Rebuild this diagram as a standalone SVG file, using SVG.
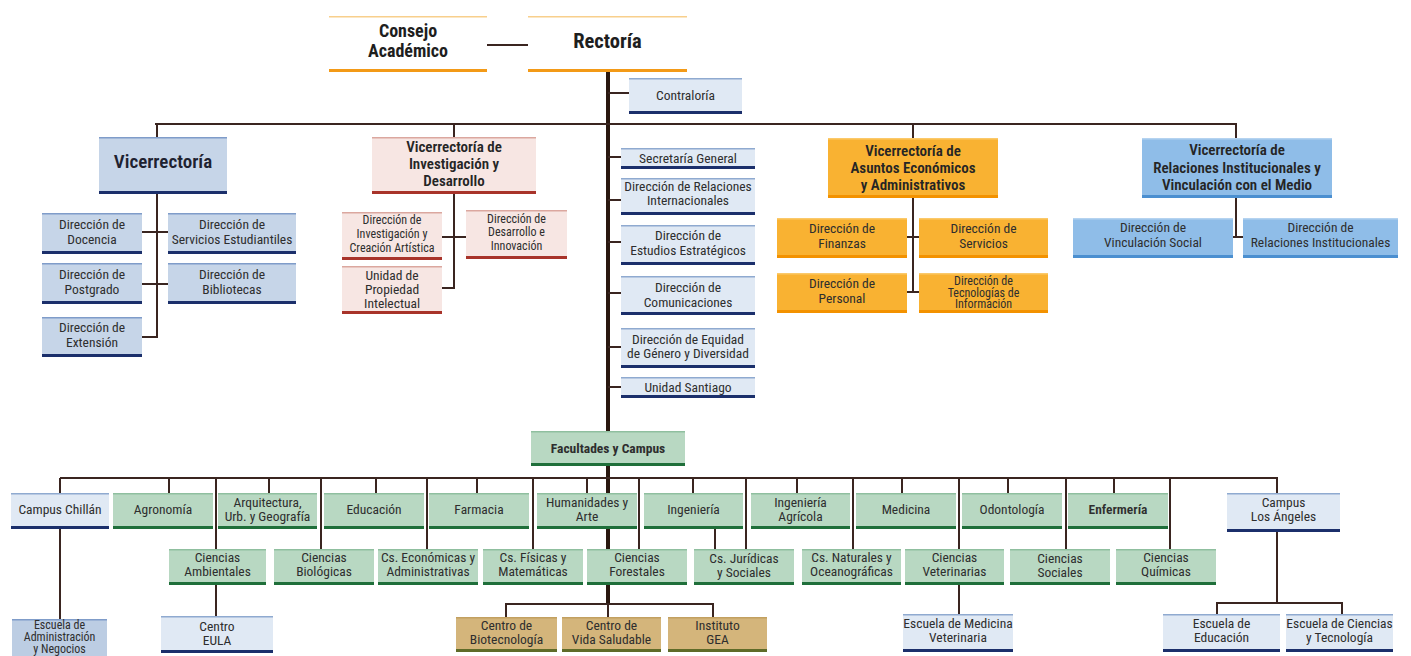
<svg xmlns="http://www.w3.org/2000/svg" width="1411" height="656" viewBox="0 0 1411 656">
<style>
  .lbl { font-family: "Liberation Sans Narrow", "Roboto Condensed", "DejaVu Sans Condensed", Lato, "Liberation Sans", sans-serif; font-size: 13.5px; fill: #2e2e2e; text-anchor: middle; }
  .b16 { font-size: 18px; font-weight: 700; fill: #1e1e1e; }
  .b19 { font-size: 20.5px; font-weight: 700; fill: #1e1e1e; }
  .t19 { font-size: 19px; font-weight: 600; fill: #1e2230; }
  .t15 { font-size: 15px; font-weight: 600; fill: #252525; }
  .bold { font-weight: 700; }
  .s12 { font-size: 12px; }
  .white .bg { fill: #ffffff; } .white .top { fill: #f8cf8c; } .white .bar { fill: #f39a17; }
  .blue .bg { fill: #c6d5e8; } .blue .top { fill: #7f9cc9; } .blue .bar { fill: #1b2f6b; }
  .light .bg { fill: #e0e9f4; } .light .top { fill: #8faad0; } .light .bar { fill: #1b2f6b; }
  .navy .bg { fill: #bccde3; } .navy .top { fill: #7f9cc9; } .navy .bar { fill: #1b2f6b; }
  .pink .bg { fill: #f7e6e3; } .pink .top { fill: #dba79f; } .pink .bar { fill: #a8332a; }
  .orange .bg { fill: #f9b232; } .orange .top { fill: #fbc96a; } .orange .bar { fill: #f39200; }
  .sky .bg { fill: #8fbde8; } .sky .top { fill: #b5d3f0; } .sky .bar { fill: #4b8fd0; }
  .green .bg { fill: #b8d8c2; } .green .top { fill: #8fbf9f; } .green .bar { fill: #1f6f3a; }
  .tan .bg { fill: #d4b57b; } .tan .top { fill: #c2a060; } .tan .bar { fill: #5f6b28; }
  .link { stroke: #3a2520; stroke-width: 2; fill: none; }
  .main { stroke: #2a1810; stroke-width: 4; fill: none; }
</style>
<rect width="1411" height="656" fill="#ffffff"/>

<!-- connectors -->
<g id="connectors">
  <line class="main" x1="608" y1="72" x2="608" y2="605"/>
  <line class="link" x1="487" y1="45" x2="528" y2="45"/>
  <line class="link" x1="608" y1="93" x2="629" y2="93"/>
  <line class="link" x1="155" y1="124" x2="1237" y2="124" stroke-width="2.5"/>
  <line class="link" x1="157" y1="124" x2="157" y2="137"/>
  <line class="link" x1="454" y1="124" x2="454" y2="137"/>
  <line class="link" x1="913" y1="124" x2="913" y2="138"/>
  <line class="link" x1="1236" y1="124" x2="1236" y2="138"/>
  <!-- Vicerrectoría -->
  <polyline class="link" points="157,194 157,337 142,337"/>
  <line class="link" x1="142" y1="232" x2="168" y2="232"/>
  <line class="link" x1="142" y1="284" x2="168" y2="284"/>
  <!-- Investigación y Desarrollo -->
  <polyline class="link" points="454,194 454,288 442,288"/>
  <line class="link" x1="442" y1="237" x2="466" y2="237"/>
  <!-- units on the main trunk -->
  <line class="link" x1="608" y1="157" x2="621" y2="157"/>
  <line class="link" x1="608" y1="200" x2="621" y2="200"/>
  <line class="link" x1="608" y1="242" x2="621" y2="242"/>
  <line class="link" x1="608" y1="293" x2="621" y2="293"/>
  <line class="link" x1="608" y1="347" x2="621" y2="347"/>
  <line class="link" x1="608" y1="387" x2="621" y2="387"/>
  <!-- Asuntos Económicos -->
  <line class="link" x1="913" y1="198" x2="913" y2="293"/>
  <line class="link" x1="907" y1="237" x2="919" y2="237"/>
  <line class="link" x1="907" y1="292" x2="919" y2="292"/>
  <!-- Relaciones Institucionales -->
  <line class="link" x1="1236" y1="198" x2="1236" y2="237"/>
  <line class="link" x1="1233" y1="237" x2="1243" y2="237"/>
  <!-- faculties -->
  <line class="link" x1="60" y1="478" x2="1278" y2="478"/>
  <line class="link" x1="60" y1="478" x2="60" y2="619"/>
  <line class="link" x1="169" y1="478" x2="169" y2="493"/>
  <line class="link" x1="269" y1="478" x2="269" y2="493"/>
  <line class="link" x1="376" y1="478" x2="376" y2="493"/>
  <line class="link" x1="477" y1="478" x2="477" y2="493"/>
  <line class="link" x1="587" y1="478" x2="587" y2="493"/>
  <line class="link" x1="693" y1="478" x2="693" y2="493"/>
  <line class="link" x1="797" y1="478" x2="797" y2="493"/>
  <line class="link" x1="902" y1="478" x2="902" y2="493"/>
  <line class="link" x1="1008" y1="478" x2="1008" y2="493"/>
  <line class="link" x1="1114" y1="478" x2="1114" y2="493"/>
  <line class="link" x1="1277" y1="478" x2="1277" y2="603"/>
  <line class="link" x1="216" y1="478" x2="216" y2="616"/>
  <line class="link" x1="321" y1="478" x2="321" y2="549"/>
  <line class="link" x1="427" y1="478" x2="427" y2="549"/>
  <line class="link" x1="533" y1="478" x2="533" y2="549"/>
  <line class="link" x1="639" y1="478" x2="639" y2="549"/>
  <line class="link" x1="746" y1="478" x2="746" y2="549"/>
  <line class="link" x1="715" y1="529" x2="715" y2="549"/>
  <line class="link" x1="853" y1="478" x2="853" y2="549"/>
  <line class="link" x1="959" y1="478" x2="959" y2="614"/>
  <line class="link" x1="1066" y1="478" x2="1066" y2="549"/>
  <line class="link" x1="1170" y1="478" x2="1170" y2="549"/>
  <!-- research centres -->
  <polyline class="link" points="506,617 506,604 713,604 713,617"/>
  <line class="link" x1="608" y1="604" x2="608" y2="617"/>
  <!-- Los Ángeles schools -->
  <polyline class="link" points="1217,614 1217,603 1342,603 1342,614"/>
</g>

<!-- governing bodies -->
<g id="consejo" class="node white"><rect class="bg" x="329" y="16" width="158" height="56"/><rect class="top" x="329" y="16" width="158" height="1.5"/><rect class="bar" x="329" y="69" width="158" height="3"/>
  <text class="lbl b16"><tspan x="408" y="37">Consejo</tspan><tspan x="408" y="57">Académico</tspan></text></g>
<g id="rectoria" class="node white"><rect class="bg" x="528" y="16" width="159" height="56"/><rect class="top" x="528" y="16" width="159" height="1.5"/><rect class="bar" x="528" y="69" width="159" height="3"/>
  <text class="lbl b19" x="607.5" y="48">Rectoría</text></g>
<g id="contraloria" class="node light"><rect class="bg" x="629" y="78" width="113" height="36"/><rect class="top" x="629" y="78" width="113" height="1.5"/><rect class="bar" x="629" y="111" width="113" height="3"/>
  <text class="lbl" x="685.5" y="100">Contraloría</text></g>

<!-- Vicerrectoría -->
<g id="vicerrectoria" class="node blue"><rect class="bg" x="99" y="137" width="128" height="57"/><rect class="top" x="99" y="137" width="128" height="1.5"/><rect class="bar" x="99" y="191" width="128" height="3"/>
  <text class="lbl t19" x="163" y="168">Vicerrectoría</text></g>
<g id="dir-docencia" class="node blue"><rect class="bg" x="42" y="213" width="100" height="41"/><rect class="top" x="42" y="213" width="100" height="1.5"/><rect class="bar" x="42" y="251" width="100" height="3"/>
  <text class="lbl"><tspan x="92" y="229">Dirección de</tspan><tspan x="92" y="244">Docencia</tspan></text></g>
<g id="dir-servicios-estudiantiles" class="node blue"><rect class="bg" x="168" y="213" width="128" height="41"/><rect class="top" x="168" y="213" width="128" height="1.5"/><rect class="bar" x="168" y="251" width="128" height="3"/>
  <text class="lbl"><tspan x="232" y="229">Dirección de</tspan><tspan x="232" y="244">Servicios Estudiantiles</tspan></text></g>
<g id="dir-postgrado" class="node blue"><rect class="bg" x="42" y="263" width="100" height="41"/><rect class="top" x="42" y="263" width="100" height="1.5"/><rect class="bar" x="42" y="301" width="100" height="3"/>
  <text class="lbl"><tspan x="92" y="279">Dirección de</tspan><tspan x="92" y="294">Postgrado</tspan></text></g>
<g id="dir-bibliotecas" class="node blue"><rect class="bg" x="168" y="263" width="128" height="41"/><rect class="top" x="168" y="263" width="128" height="1.5"/><rect class="bar" x="168" y="301" width="128" height="3"/>
  <text class="lbl"><tspan x="232" y="279">Dirección de</tspan><tspan x="232" y="294">Bibliotecas</tspan></text></g>
<g id="dir-extension" class="node blue"><rect class="bg" x="42" y="317" width="100" height="40"/><rect class="top" x="42" y="317" width="100" height="1.5"/><rect class="bar" x="42" y="354" width="100" height="3"/>
  <text class="lbl"><tspan x="92" y="332">Dirección de</tspan><tspan x="92" y="347">Extensión</tspan></text></g>

<!-- Investigación y Desarrollo -->
<g id="vr-investigacion" class="node pink"><rect class="bg" x="372" y="137" width="164" height="57"/><rect class="top" x="372" y="137" width="164" height="1.5"/><rect class="bar" x="372" y="191" width="164" height="3"/>
  <text class="lbl t15"><tspan x="454" y="152">Vicerrectoría de</tspan><tspan x="454" y="169">Investigación y</tspan><tspan x="454" y="186">Desarrollo</tspan></text></g>
<g id="dir-investigacion" class="node pink"><rect class="bg" x="342" y="212" width="100" height="48"/><rect class="top" x="342" y="212" width="100" height="1.5"/><rect class="bar" x="342" y="257" width="100" height="3"/>
  <text class="lbl s12"><tspan x="392" y="224">Dirección de</tspan><tspan x="392" y="238">Investigación y</tspan><tspan x="392" y="252">Creación Artística</tspan></text></g>
<g id="unidad-propiedad" class="node pink"><rect class="bg" x="342" y="266" width="100" height="48"/><rect class="top" x="342" y="266" width="100" height="1.5"/><rect class="bar" x="342" y="311" width="100" height="3"/>
  <text class="lbl"><tspan x="392" y="280">Unidad de</tspan><tspan x="392" y="294">Propiedad</tspan><tspan x="392" y="308">Intelectual</tspan></text></g>
<g id="dir-desarrollo" class="node pink"><rect class="bg" x="466" y="210" width="101" height="49"/><rect class="top" x="466" y="210" width="101" height="1.5"/><rect class="bar" x="466" y="256" width="101" height="3"/>
  <text class="lbl s12"><tspan x="516.5" y="223">Dirección de</tspan><tspan x="516.5" y="236">Desarrollo e</tspan><tspan x="516.5" y="250">Innovación</tspan></text></g>

<!-- units attached to Rectoría -->
<g id="secretaria-general" class="node light"><rect class="bg" x="621" y="148" width="134" height="21"/><rect class="top" x="621" y="148" width="134" height="1.5"/><rect class="bar" x="621" y="166" width="134" height="3"/>
  <text class="lbl" x="688" y="163">Secretaría General</text></g>
<g id="dir-relaciones-internacionales" class="node light"><rect class="bg" x="621" y="178" width="134" height="37"/><rect class="top" x="621" y="178" width="134" height="1.5"/><rect class="bar" x="621" y="212" width="134" height="3"/>
  <text class="lbl"><tspan x="688" y="191">Dirección de Relaciones</tspan><tspan x="688" y="205">Internacionales</tspan></text></g>
<g id="dir-estudios" class="node light"><rect class="bg" x="621" y="225" width="134" height="40"/><rect class="top" x="621" y="225" width="134" height="1.5"/><rect class="bar" x="621" y="262" width="134" height="3"/>
  <text class="lbl"><tspan x="688" y="240">Dirección de</tspan><tspan x="688" y="255">Estudios Estratégicos</tspan></text></g>
<g id="dir-comunicaciones" class="node light"><rect class="bg" x="621" y="276" width="134" height="39"/><rect class="top" x="621" y="276" width="134" height="1.5"/><rect class="bar" x="621" y="312" width="134" height="3"/>
  <text class="lbl"><tspan x="688" y="292">Dirección de</tspan><tspan x="688" y="307">Comunicaciones</tspan></text></g>
<g id="dir-equidad" class="node light"><rect class="bg" x="621" y="328" width="134" height="40"/><rect class="top" x="621" y="328" width="134" height="1.5"/><rect class="bar" x="621" y="365" width="134" height="3"/>
  <text class="lbl"><tspan x="688" y="344">Dirección de Equidad</tspan><tspan x="688" y="358">de Género y Diversidad</tspan></text></g>
<g id="unidad-santiago" class="node light"><rect class="bg" x="621" y="377" width="134" height="21"/><rect class="top" x="621" y="377" width="134" height="1.5"/><rect class="bar" x="621" y="395" width="134" height="3"/>
  <text class="lbl" x="688" y="392">Unidad Santiago</text></g>

<!-- Asuntos Económicos y Administrativos -->
<g id="vr-economicos" class="node orange"><rect class="bg" x="828" y="138" width="170" height="60"/><rect class="top" x="828" y="138" width="170" height="1.5"/><rect class="bar" x="828" y="195" width="170" height="3"/>
  <text class="lbl t15"><tspan x="913" y="156">Vicerrectoría de</tspan><tspan x="913" y="173">Asuntos Económicos</tspan><tspan x="913" y="190">y Administrativos</tspan></text></g>
<g id="dir-finanzas" class="node orange"><rect class="bg" x="777" y="218" width="130" height="40"/><rect class="top" x="777" y="218" width="130" height="1.5"/><rect class="bar" x="777" y="255" width="130" height="3"/>
  <text class="lbl"><tspan x="842" y="233">Dirección de</tspan><tspan x="842" y="248">Finanzas</tspan></text></g>
<g id="dir-servicios" class="node orange"><rect class="bg" x="919" y="218" width="129" height="40"/><rect class="top" x="919" y="218" width="129" height="1.5"/><rect class="bar" x="919" y="255" width="129" height="3"/>
  <text class="lbl"><tspan x="983.5" y="233">Dirección de</tspan><tspan x="983.5" y="248">Servicios</tspan></text></g>
<g id="dir-personal" class="node orange"><rect class="bg" x="777" y="273" width="130" height="40"/><rect class="top" x="777" y="273" width="130" height="1.5"/><rect class="bar" x="777" y="310" width="130" height="3"/>
  <text class="lbl"><tspan x="842" y="288">Dirección de</tspan><tspan x="842" y="303">Personal</tspan></text></g>
<g id="dir-tecnologias" class="node orange"><rect class="bg" x="919" y="273" width="129" height="40"/><rect class="top" x="919" y="273" width="129" height="1.5"/><rect class="bar" x="919" y="310" width="129" height="3"/>
  <text class="lbl s12"><tspan x="983.5" y="285">Dirección de</tspan><tspan x="983.5" y="296.5">Tecnologías de</tspan><tspan x="983.5" y="308">Información</tspan></text></g>

<!-- Relaciones Institucionales y Vinculación -->
<g id="vr-relaciones" class="node sky"><rect class="bg" x="1142" y="138" width="190" height="60"/><rect class="top" x="1142" y="138" width="190" height="1.5"/><rect class="bar" x="1142" y="195" width="190" height="3"/>
  <text class="lbl t15"><tspan x="1237" y="155">Vicerrectoría de</tspan><tspan x="1237" y="173">Relaciones Institucionales y</tspan><tspan x="1237" y="190">Vinculación con el Medio</tspan></text></g>
<g id="dir-vinculacion" class="node sky"><rect class="bg" x="1073" y="218" width="160" height="40"/><rect class="top" x="1073" y="218" width="160" height="1.5"/><rect class="bar" x="1073" y="255" width="160" height="3"/>
  <text class="lbl"><tspan x="1153" y="232">Dirección de</tspan><tspan x="1153" y="247">Vinculación Social</tspan></text></g>
<g id="dir-relaciones-institucionales" class="node sky"><rect class="bg" x="1243" y="218" width="155" height="40"/><rect class="top" x="1243" y="218" width="155" height="1.5"/><rect class="bar" x="1243" y="255" width="155" height="3"/>
  <text class="lbl"><tspan x="1320.5" y="232">Dirección de</tspan><tspan x="1320.5" y="247">Relaciones Institucionales</tspan></text></g>

<!-- Facultades y Campus -->
<g id="facultades" class="node green"><rect class="bg" x="531" y="431" width="154" height="35"/><rect class="top" x="531" y="431" width="154" height="1.5"/><rect class="bar" x="531" y="463" width="154" height="3"/>
  <text class="lbl bold" x="608" y="453">Facultades y Campus</text></g>

<!-- first row -->
<g id="campus-chillan" class="node light"><rect class="bg" x="11" y="493" width="98" height="36"/><rect class="top" x="11" y="493" width="98" height="1.5"/><rect class="bar" x="11" y="526" width="98" height="3"/>
  <text class="lbl" x="60" y="514">Campus Chillán</text></g>
<g id="agronomia" class="node green"><rect class="bg" x="113" y="493" width="100" height="36"/><rect class="top" x="113" y="493" width="100" height="1.5"/><rect class="bar" x="113" y="526" width="100" height="3"/>
  <text class="lbl" x="163" y="514">Agronomía</text></g>
<g id="arquitectura" class="node green"><rect class="bg" x="218" y="493" width="99" height="36"/><rect class="top" x="218" y="493" width="99" height="1.5"/><rect class="bar" x="218" y="526" width="99" height="3"/>
  <text class="lbl"><tspan x="267.5" y="507">Arquitectura,</tspan><tspan x="267.5" y="521">Urb. y Geografía</tspan></text></g>
<g id="educacion" class="node green"><rect class="bg" x="324" y="493" width="100" height="36"/><rect class="top" x="324" y="493" width="100" height="1.5"/><rect class="bar" x="324" y="526" width="100" height="3"/>
  <text class="lbl" x="374" y="514">Educación</text></g>
<g id="farmacia" class="node green"><rect class="bg" x="429" y="493" width="100" height="36"/><rect class="top" x="429" y="493" width="100" height="1.5"/><rect class="bar" x="429" y="526" width="100" height="3"/>
  <text class="lbl" x="479" y="514">Farmacia</text></g>
<g id="humanidades" class="node green"><rect class="bg" x="537" y="493" width="100" height="36"/><rect class="top" x="537" y="493" width="100" height="1.5"/><rect class="bar" x="537" y="526" width="100" height="3"/>
  <text class="lbl"><tspan x="587" y="507">Humanidades y</tspan><tspan x="587" y="521">Arte</tspan></text></g>
<g id="ingenieria" class="node green"><rect class="bg" x="644" y="493" width="99" height="36"/><rect class="top" x="644" y="493" width="99" height="1.5"/><rect class="bar" x="644" y="526" width="99" height="3"/>
  <text class="lbl" x="693.5" y="514">Ingeniería</text></g>
<g id="ingenieria-agricola" class="node green"><rect class="bg" x="751" y="493" width="99" height="36"/><rect class="top" x="751" y="493" width="99" height="1.5"/><rect class="bar" x="751" y="526" width="99" height="3"/>
  <text class="lbl"><tspan x="800.5" y="507">Ingeniería</tspan><tspan x="800.5" y="521">Agrícola</tspan></text></g>
<g id="medicina" class="node green"><rect class="bg" x="856" y="493" width="100" height="36"/><rect class="top" x="856" y="493" width="100" height="1.5"/><rect class="bar" x="856" y="526" width="100" height="3"/>
  <text class="lbl" x="906" y="514">Medicina</text></g>
<g id="odontologia" class="node green"><rect class="bg" x="962" y="493" width="100" height="36"/><rect class="top" x="962" y="493" width="100" height="1.5"/><rect class="bar" x="962" y="526" width="100" height="3"/>
  <text class="lbl" x="1012" y="514">Odontología</text></g>
<g id="enfermeria" class="node green"><rect class="bg" x="1068" y="493" width="100" height="36"/><rect class="top" x="1068" y="493" width="100" height="1.5"/><rect class="bar" x="1068" y="526" width="100" height="3"/>
  <text class="lbl" x="1118" y="514" font-weight="600">Enfermería</text></g>
<g id="campus-los-angeles" class="node light"><rect class="bg" x="1227" y="493" width="113" height="39"/><rect class="top" x="1227" y="493" width="113" height="1.5"/><rect class="bar" x="1227" y="529" width="113" height="3"/>
  <text class="lbl"><tspan x="1283.5" y="507">Campus</tspan><tspan x="1283.5" y="521">Los Ángeles</tspan></text></g>

<!-- second row -->
<g id="ciencias-ambientales" class="node green"><rect class="bg" x="169" y="549" width="97" height="36"/><rect class="top" x="169" y="549" width="97" height="1.5"/><rect class="bar" x="169" y="582" width="97" height="3"/>
  <text class="lbl"><tspan x="217.5" y="562">Ciencias</tspan><tspan x="217.5" y="576">Ambientales</tspan></text></g>
<g id="ciencias-biologicas" class="node green"><rect class="bg" x="274" y="549" width="100" height="36"/><rect class="top" x="274" y="549" width="100" height="1.5"/><rect class="bar" x="274" y="582" width="100" height="3"/>
  <text class="lbl"><tspan x="324" y="562">Ciencias</tspan><tspan x="324" y="576">Biológicas</tspan></text></g>
<g id="cs-economicas" class="node green"><rect class="bg" x="378" y="549" width="100" height="36"/><rect class="top" x="378" y="549" width="100" height="1.5"/><rect class="bar" x="378" y="582" width="100" height="3"/>
  <text class="lbl"><tspan x="428" y="562">Cs. Económicas y</tspan><tspan x="428" y="576">Administrativas</tspan></text></g>
<g id="cs-fisicas" class="node green"><rect class="bg" x="483" y="549" width="100" height="36"/><rect class="top" x="483" y="549" width="100" height="1.5"/><rect class="bar" x="483" y="582" width="100" height="3"/>
  <text class="lbl"><tspan x="533" y="562">Cs. Físicas y</tspan><tspan x="533" y="576">Matemáticas</tspan></text></g>
<g id="ciencias-forestales" class="node green"><rect class="bg" x="587" y="549" width="100" height="36"/><rect class="top" x="587" y="549" width="100" height="1.5"/><rect class="bar" x="587" y="582" width="100" height="3"/>
  <text class="lbl"><tspan x="637" y="562">Ciencias</tspan><tspan x="637" y="576">Forestales</tspan></text></g>
<g id="cs-juridicas" class="node green"><rect class="bg" x="694" y="549" width="100" height="36"/><rect class="top" x="694" y="549" width="100" height="1.5"/><rect class="bar" x="694" y="582" width="100" height="3"/>
  <text class="lbl"><tspan x="744" y="563">Cs. Jurídicas</tspan><tspan x="744" y="577">y Sociales</tspan></text></g>
<g id="cs-naturales" class="node green"><rect class="bg" x="802" y="549" width="99" height="36"/><rect class="top" x="802" y="549" width="99" height="1.5"/><rect class="bar" x="802" y="582" width="99" height="3"/>
  <text class="lbl"><tspan x="851.5" y="562">Cs. Naturales y</tspan><tspan x="851.5" y="576">Oceanográficas</tspan></text></g>
<g id="ciencias-veterinarias" class="node green"><rect class="bg" x="905" y="549" width="99" height="36"/><rect class="top" x="905" y="549" width="99" height="1.5"/><rect class="bar" x="905" y="582" width="99" height="3"/>
  <text class="lbl"><tspan x="954.5" y="562">Ciencias</tspan><tspan x="954.5" y="576">Veterinarias</tspan></text></g>
<g id="ciencias-sociales" class="node green"><rect class="bg" x="1010" y="549" width="100" height="36"/><rect class="top" x="1010" y="549" width="100" height="1.5"/><rect class="bar" x="1010" y="582" width="100" height="3"/>
  <text class="lbl"><tspan x="1060" y="563">Ciencias</tspan><tspan x="1060" y="577">Sociales</tspan></text></g>
<g id="ciencias-quimicas" class="node green"><rect class="bg" x="1116" y="549" width="100" height="36"/><rect class="top" x="1116" y="549" width="100" height="1.5"/><rect class="bar" x="1116" y="582" width="100" height="3"/>
  <text class="lbl"><tspan x="1166" y="562">Ciencias</tspan><tspan x="1166" y="576">Químicas</tspan></text></g>

<!-- third row -->
<g id="escuela-administracion" class="node navy"><rect class="bg" x="12" y="619" width="95" height="40"/><rect class="top" x="12" y="619" width="95" height="1.5"/>
  <text class="lbl s12"><tspan x="59.5" y="629">Escuela de</tspan><tspan x="59.5" y="641">Administración</tspan><tspan x="59.5" y="653">y Negocios</tspan></text></g>
<g id="centro-eula" class="node light"><rect class="bg" x="161" y="616" width="112" height="37"/><rect class="top" x="161" y="616" width="112" height="1.5"/><rect class="bar" x="161" y="650" width="112" height="3"/>
  <text class="lbl"><tspan x="217" y="631">Centro</tspan><tspan x="217" y="645">EULA</tspan></text></g>
<g id="centro-biotecnologia" class="node tan"><rect class="bg" x="456" y="617" width="101" height="35"/><rect class="top" x="456" y="617" width="101" height="1.5"/><rect class="bar" x="456" y="649" width="101" height="3"/>
  <text class="lbl"><tspan x="506.5" y="630">Centro de</tspan><tspan x="506.5" y="644">Biotecnología</tspan></text></g>
<g id="centro-vida-saludable" class="node tan"><rect class="bg" x="562" y="617" width="99" height="35"/><rect class="top" x="562" y="617" width="99" height="1.5"/><rect class="bar" x="562" y="649" width="99" height="3"/>
  <text class="lbl"><tspan x="611.5" y="630">Centro de</tspan><tspan x="611.5" y="644">Vida Saludable</tspan></text></g>
<g id="instituto-gea" class="node tan"><rect class="bg" x="668" y="617" width="99" height="35"/><rect class="top" x="668" y="617" width="99" height="1.5"/><rect class="bar" x="668" y="649" width="99" height="3"/>
  <text class="lbl"><tspan x="717.5" y="630">Instituto</tspan><tspan x="717.5" y="644">GEA</tspan></text></g>
<g id="escuela-medicina-veterinaria" class="node light"><rect class="bg" x="903" y="614" width="110" height="38"/><rect class="top" x="903" y="614" width="110" height="1.5"/><rect class="bar" x="903" y="649" width="110" height="3"/>
  <text class="lbl"><tspan x="958" y="628">Escuela de Medicina</tspan><tspan x="958" y="642">Veterinaria</tspan></text></g>
<g id="escuela-educacion" class="node light"><rect class="bg" x="1163" y="614" width="117" height="38"/><rect class="top" x="1163" y="614" width="117" height="1.5"/><rect class="bar" x="1163" y="649" width="117" height="3"/>
  <text class="lbl"><tspan x="1221.5" y="628">Escuela de</tspan><tspan x="1221.5" y="642">Educación</tspan></text></g>
<g id="escuela-ciencias-tecnologia" class="node light"><rect class="bg" x="1286" y="614" width="107" height="38"/><rect class="top" x="1286" y="614" width="107" height="1.5"/><rect class="bar" x="1286" y="649" width="107" height="3"/>
  <text class="lbl"><tspan x="1339.5" y="628">Escuela de Ciencias</tspan><tspan x="1339.5" y="642">y Tecnología</tspan></text></g>
</svg>
